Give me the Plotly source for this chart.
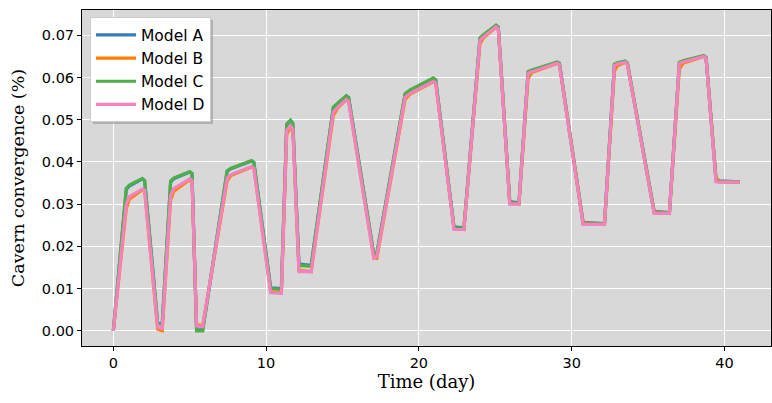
import plotly.graph_objects as go

# time (day) and cavern convergence (%)
time_day = [0.0, 0.85, 1.05, 1.9, 2.05, 2.9, 3.2, 3.75, 3.95, 5.0, 5.15, 5.45, 5.85,
            7.45, 7.7, 9.05, 9.2, 10.3, 11.0, 11.35, 11.6, 11.75, 12.15, 12.95,
            14.4, 14.7, 15.25, 15.4, 17.05, 17.25, 19.1, 19.4, 20.95, 21.1, 22.3, 22.95,
            24.0, 24.25, 25.05, 25.2, 25.95, 26.55, 27.15, 27.4, 29.05, 29.2, 30.75, 32.15,
            32.8, 33.0, 33.5, 33.65, 35.4, 36.4, 37.05, 37.3, 38.65, 38.8, 39.45, 39.7, 41.0]

model_c = [0, 0.0338, 0.0345, 0.0361, 0.0355, 0.0018, 0.0015, 0.0355, 0.0362, 0.0377, 0.0372, 0.0000, 0.0000,
           0.0379, 0.0385, 0.0403, 0.0398, 0.0100, 0.0098, 0.0490, 0.0499, 0.0490, 0.0155, 0.0153,
           0.0530, 0.0540, 0.0557, 0.0552, 0.0180, 0.0185, 0.0562, 0.0570, 0.0599, 0.0594, 0.0244, 0.0243,
           0.0694, 0.0702, 0.0724, 0.0719, 0.0303, 0.0302, 0.0614, 0.0618, 0.0637, 0.0633, 0.0254, 0.0253,
           0.0632, 0.0635, 0.0639, 0.0633, 0.0280, 0.0279, 0.0636, 0.0640, 0.0652, 0.0647, 0.0355, 0.0353, 0.0353]

model_a = [0, 0.0335, 0.0343, 0.0360, 0.0356, 0.0020, 0.0016, 0.0352, 0.0360, 0.0376, 0.0373, 0.0003, 0.0002,
           0.0378, 0.0384, 0.0402, 0.0399, 0.0102, 0.0100, 0.0488, 0.0498, 0.0492, 0.0158, 0.0155,
           0.0528, 0.0539, 0.0556, 0.0553, 0.0182, 0.0183, 0.0560, 0.0569, 0.0598, 0.0595, 0.0246, 0.0244,
           0.0692, 0.0701, 0.0723, 0.0720, 0.0306, 0.0303, 0.0612, 0.0617, 0.0636, 0.0634, 0.0257, 0.0254,
           0.0630, 0.0634, 0.0638, 0.0634, 0.0283, 0.0280, 0.0634, 0.0639, 0.0651, 0.0648, 0.0360, 0.0355, 0.0353]

model_d = [0, 0.0300, 0.0318, 0.0336, 0.0333, 0.0008, 0.0005, 0.0320, 0.0337, 0.0360, 0.0356, 0.0012, 0.0010,
           0.0362, 0.0370, 0.0389, 0.0385, 0.0090, 0.0089, 0.0475, 0.0485, 0.0478, 0.0140, 0.0140,
           0.0518, 0.0530, 0.0548, 0.0544, 0.0172, 0.0176, 0.0553, 0.0562, 0.0591, 0.0587, 0.0240, 0.0240,
           0.0688, 0.0697, 0.0720, 0.0716, 0.0300, 0.0300, 0.0610, 0.0614, 0.0634, 0.0631, 0.0252, 0.0252,
           0.0628, 0.0632, 0.0636, 0.0631, 0.0278, 0.0278, 0.0633, 0.0637, 0.0650, 0.0646, 0.0353, 0.0352, 0.0352]

model_b = [0, 0.0290, 0.0312, 0.0334, 0.0333, 0.0004, 0.0000, 0.0310, 0.0330, 0.0358, 0.0356, 0.0015, 0.0012,
           0.0355, 0.0368, 0.0388, 0.0386, 0.0092, 0.0090, 0.0465, 0.0483, 0.0480, 0.0143, 0.0140,
           0.0510, 0.0528, 0.0547, 0.0545, 0.0174, 0.0172, 0.0548, 0.0560, 0.0590, 0.0588, 0.0243, 0.0240,
           0.0680, 0.0695, 0.0719, 0.0717, 0.0304, 0.0300, 0.0598, 0.0612, 0.0633, 0.0632, 0.0256, 0.0252,
           0.0615, 0.0628, 0.0636, 0.0633, 0.0282, 0.0278, 0.0620, 0.0634, 0.0650, 0.0647, 0.0362, 0.0354, 0.0352]

names = ["Model A", "Model B", "Model C", "Model D"]
series = [model_a, model_b, model_c, model_d]
colors = ["#377eb8", "#ff7f00", "#4daf4a", "#f781bf"]

fig = go.Figure()
for name, vals, col in zip(names, series, colors):
    fig.add_trace(go.Scatter(x=time_day, y=vals, mode="lines", name=name, legendgroup=name,
                             line=dict(color=col, width=3.2)))

axis_common = dict(showline=True, mirror=True, linecolor="black", linewidth=1,
                   ticks="outside", ticklen=4, tickcolor="black",
                   showgrid=True, gridcolor="white", gridwidth=1, zeroline=False,
                   tickfont=dict(family="DejaVu Sans", size=14.5, color="black"))

fig.update_layout(
    width=772, height=403,
    margin=dict(l=82, r=1, t=10, b=57),
    paper_bgcolor="white", plot_bgcolor="#d8d8d8",
    xaxis=dict(range=[-2.05, 43.05], dtick=10,
               title=dict(text="Time (day)", font=dict(family="DejaVu Serif", size=18, color="black"), standoff=4),
               **axis_common),
    yaxis=dict(range=[-0.0036, 0.076], dtick=0.01, tickformat=".2f",
               title=dict(text="Cavern convergence (%)", font=dict(family="DejaVu Serif", size=17.5, color="black"), standoff=12),
               **axis_common),
    legend=dict(x=0.0116, y=0.978, xanchor="left", yanchor="top",
                bgcolor="white", bordercolor="#cccccc", borderwidth=1,
                tracegroupgap=0, itemwidth=40,
                font=dict(family="DejaVu Sans", size=15.5, color="black")),
    # drop shadow behind the legend box
    shapes=[dict(type="rect", xref="paper", yref="paper",
                 x0=0.016, x1=0.1901, y0=0.6607, y1=0.9702,
                 fillcolor="#888888", opacity=0.5, line=dict(width=0), layer="above")],
)

fig.write_html("out.html", config={"displayModeBar": False},
               post_script="document.body.style.margin='0';")
